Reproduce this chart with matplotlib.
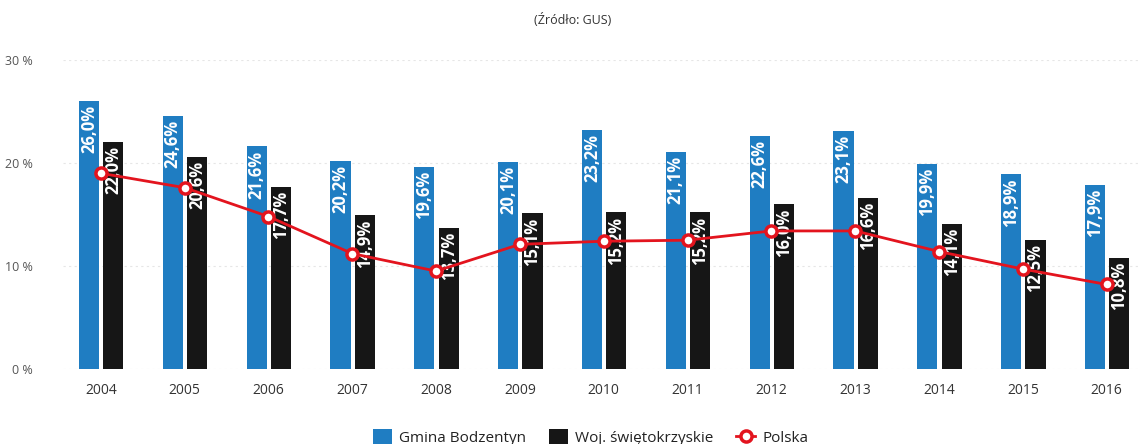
import matplotlib
matplotlib.use("Agg")
import matplotlib.pyplot as plt
import numpy as np

plt.rcParams['font.family'] = ['Open Sans', 'DejaVu Sans']

lata = ['2004', '2005', '2006', '2007', '2008', '2009', '2010',
        '2011', '2012', '2013', '2014', '2015', '2016']
gmina = [26.0, 24.6, 21.6, 20.2, 19.6, 20.1, 23.2, 21.1, 22.6, 23.1, 19.9, 18.9, 17.9]
woj = [22.0, 20.6, 17.7, 14.9, 13.7, 15.1, 15.2, 15.2, 16.0, 16.6, 14.1, 12.5, 10.8]
polska = [19.0, 17.6, 14.8, 11.2, 9.5, 12.1, 12.4, 12.5, 13.4, 13.4, 11.4, 9.7, 8.2]

x = np.arange(len(lata))
szer = 0.24

fig = plt.figure(figsize=(11.46, 4.44), dpi=100)
ax = fig.add_axes([0.055, 0.169, 0.94, 0.696])

b1 = ax.bar(x - 0.14, gmina, szer, color='#1f7dc2', zorder=2, label='Gmina Bodzentyn')
b2 = ax.bar(x + 0.15, woj, szer, color='#161616', zorder=2, label='Woj. świętokrzyskie')
l1, = ax.plot(x, polska, color='#e3141e', lw=2, marker='o', ms=8, mfc='white',
              mec='#e3141e', mew=2.5, zorder=6, label='Polska')

for i in range(len(lata)):
    ax.text(x[i] - 0.14, gmina[i] - 0.4, f'{gmina[i]:.1f}%'.replace('.', ','),
            rotation=90, ha='center', va='top', color='white',
            fontsize=12, fontweight='bold', zorder=5)
    ax.text(x[i] + 0.15, woj[i] - 0.4, f'{woj[i]:.1f}%'.replace('.', ','),
            rotation=90, ha='center', va='top', color='white',
            fontsize=12, fontweight='bold', zorder=5)

ax.set_ylim(0, 30)
ax.set_xlim(-0.45, 12.4)
ax.set_yticks([0, 10, 20, 30])
ax.set_yticklabels(['0 %', '10 %', '20 %', '30 %'])
ax.set_xticks(x)
ax.set_xticklabels(lata)
ax.tick_params(axis='y', length=0, labelsize=9, labelcolor='#555555', pad=22)
ax.tick_params(axis='x', length=0, labelsize=10, labelcolor='#333333', pad=10)
for s in ax.spines.values():
    s.set_visible(False)
ax.grid(axis='y', color='#e6e6e6', lw=0.8, ls=(0, (2, 3)), zorder=0)

fig.text(0.5, 0.955, '(Źródło: GUS)', ha='center', va='center', fontsize=9, color='#333333')

ax.legend([b1, b2, l1], ['Gmina Bodzentyn', 'Woj. świętokrzyskie', 'Polska'],
          loc='upper center', bbox_to_anchor=(0.49, -0.15), ncol=3, frameon=False,
          fontsize=11, handlelength=1.2, handleheight=1.2, columnspacing=1.5,
          handletextpad=0.5, labelcolor='#222222')

fig.savefig('out.png', dpi=100)
